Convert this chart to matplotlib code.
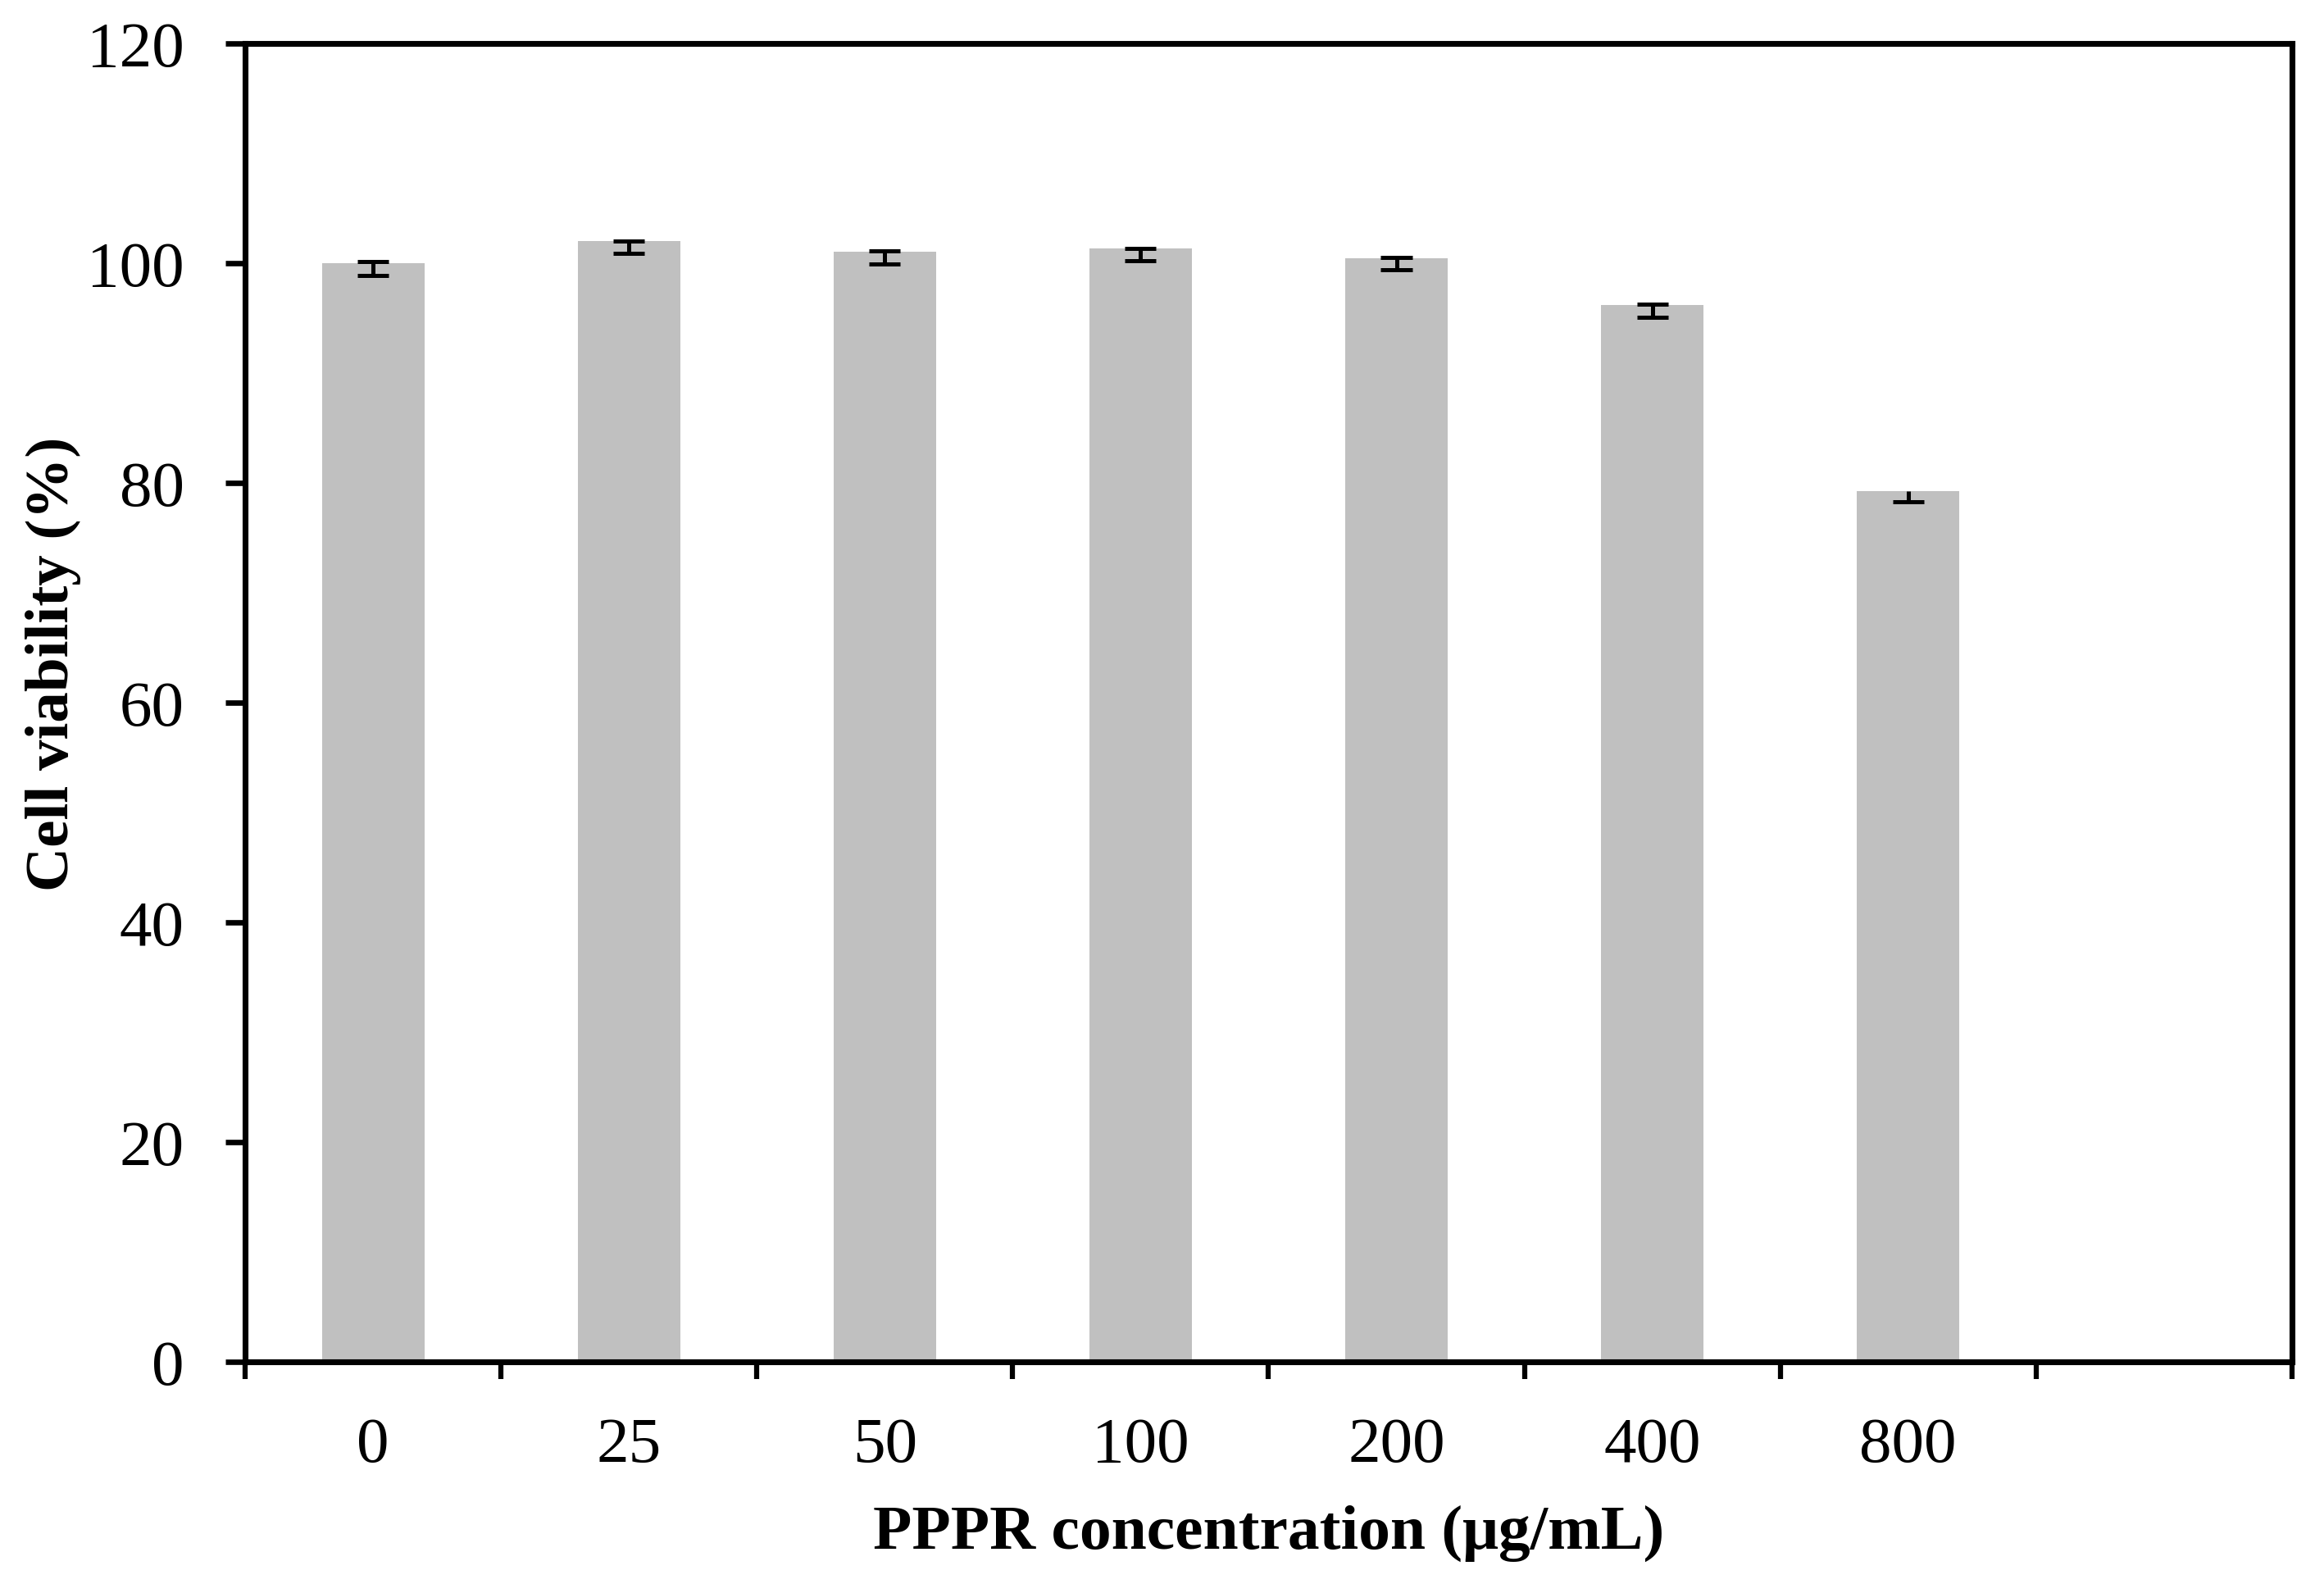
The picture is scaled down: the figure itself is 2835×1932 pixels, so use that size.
import matplotlib
matplotlib.use("Agg")
import matplotlib.pyplot as plt
import numpy as np

# data
concentrations = ["0", "25", "50", "100", "200", "400", "800"]
viability = [100.0, 102.0, 101.05, 101.35, 100.45, 96.2, 79.3]
err_minus = [1.1, 1.1, 1.1, 1.1, 1.0, 1.1, 1.0]
err_plus = [0.2, 0.05, 0.05, 0.0, 0.05, 0.05, None]  # None: no upper cap drawn

plt.rcParams['font.family'] = ['Liberation Serif', 'DejaVu Serif']

fig = plt.figure(figsize=(9.45, 6.443), dpi=300)
ax = fig.add_axes([0.1055, 0.1402, 0.8807, 0.8318])

x = np.arange(len(concentrations))
ax.bar(x, viability, width=0.40, color='#C0C0C0', zorder=2)

# error bars drawn by hand so the 800 bar can skip its upper cap
cap = 0.061
for xi, v, lo, hi in zip(x, viability, err_minus, err_plus):
    top = v + (hi if hi is not None else 0)
    bottom = v - lo
    ax.vlines(xi, bottom, top, color='black', lw=1.2, zorder=3)
    ax.hlines(bottom, xi - cap, xi + cap, color='black', lw=1.2, zorder=3)
    if hi is not None:
        ax.hlines(top, xi - cap, xi + cap, color='black', lw=1.2, zorder=3)

ax.set_xlim(-0.5, 7.5)
ax.set_ylim(0, 120)
ax.set_yticks(np.arange(0, 121, 20))

# category boundaries carry the tick marks, labels sit in the middle
ax.set_xticks(np.arange(-0.5, 8.0, 1.0))
ax.set_xticklabels([])
ax.set_xticks(x, minor=True)
ax.set_xticklabels(concentrations, minor=True)
ax.tick_params(axis='x', which='major', direction='out', length=5, width=1.5)
ax.tick_params(axis='x', which='minor', length=0, pad=16, labelsize=19)
ax.tick_params(axis='y', direction='out', length=5.8, width=1.6, pad=12, labelsize=19)

for side in ['left', 'right', 'top', 'bottom']:
    ax.spines[side].set_linewidth(1.7)

ax.set_xlabel("PPPR concentration (μg/mL)", fontsize=18.6, fontweight='bold')
ax.set_ylabel("Cell viability (%)", fontsize=18, fontweight='bold')
ax.xaxis.set_label_coords(0.5, -0.108)
ax.yaxis.set_label_coords(-0.08, 0.53)

fig.savefig("out.png", dpi=300)
